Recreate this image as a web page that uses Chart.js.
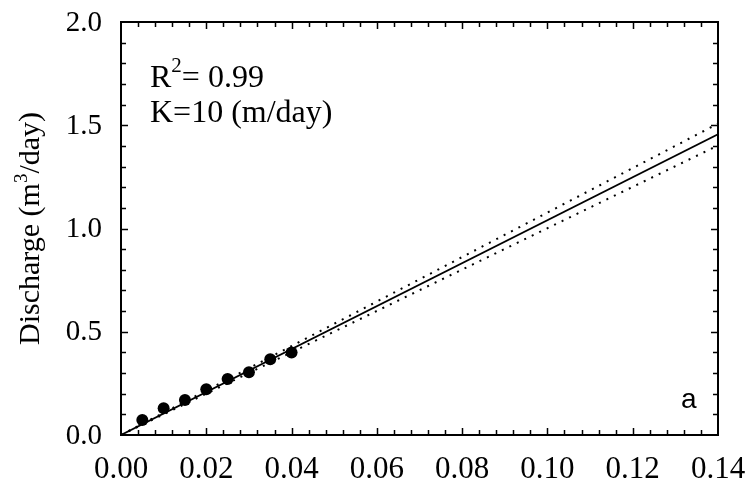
<!DOCTYPE html>
<html>
<head>
<meta charset="utf-8">
<title>Discharge vs gradient</title>
<script src="https://cdn.jsdelivr.net/npm/chart.js@4.4.1/dist/chart.umd.min.js"></script>
<style>
  html, body { margin: 0; padding: 0; background: #fff; }
  #wrap { width: 747px; height: 484px; }
</style>
</head>
<body>
<div id="wrap"><canvas id="dischargeChart" width="747" height="484"></canvas></div>
<script>
// measured points
const gradientValues = [0.005, 0.010, 0.015, 0.020, 0.025, 0.030, 0.035, 0.040];
const dischargeValues = [0.073, 0.129, 0.169, 0.221, 0.271, 0.304, 0.367, 0.400];

// regression line and its confidence bands (ends)
const lineX = [0, 0.14];
const fitY = [0, 1.456];
const upperY = [0, 1.508];
const lowerY = [0, 1.402];

// axis ticks
const xTickLabels = ['0.00', '0.02', '0.04', '0.06', '0.08', '0.10', '0.12', '0.14'];
const yTickLabels = ['0.0', '0.5', '1.0', '1.5', '2.0'];
const xMinorStep = 0.004;
const yMinorStep = 0.1;

const serif = '"Liberation Serif", "Times New Roman", serif';

function pairs(xs, ys) {
    return xs.map((x, i) => ({ x: x, y: ys[i] }));
}

// Plugin: frame, inward ticks, labels and text notes
const framePlugin = {
    id: 'frame',
    afterDraw(chart) {
        const ctx = chart.ctx;
        const xs = chart.scales.x;
        const ys = chart.scales.y;
        const a = chart.chartArea;
        ctx.save();
        ctx.strokeStyle = '#000';
        ctx.fillStyle = '#000';
        ctx.lineWidth = 2;
        ctx.strokeRect(a.left, a.top, a.right - a.left, a.bottom - a.top);

        // x ticks (bottom and top)
        ctx.lineWidth = 1.5;
        const nx = Math.round(xs.max / xMinorStep);
        for (let i = 1; i < nx; i++) {
            const v = i * xMinorStep;
            const px = Math.round(xs.getPixelForValue(v)) + 0.5;
            const major = Math.abs(v / 0.02 - Math.round(v / 0.02)) < 1e-6;
            const len = major ? 7 : 5;
            ctx.beginPath();
            ctx.moveTo(px, a.bottom); ctx.lineTo(px, a.bottom - len);
            ctx.moveTo(px, a.top); ctx.lineTo(px, a.top + len);
            ctx.stroke();
        }
        // y ticks (left and right)
        const ny = Math.round(ys.max / yMinorStep);
        for (let i = 1; i < ny; i++) {
            const v = i * yMinorStep;
            const py = Math.round(ys.getPixelForValue(v)) + 0.5;
            const major = Math.abs(v / 0.5 - Math.round(v / 0.5)) < 1e-6;
            const len = major ? 7 : 5;
            ctx.beginPath();
            ctx.moveTo(a.left, py); ctx.lineTo(a.left + len, py);
            ctx.moveTo(a.right, py); ctx.lineTo(a.right - len, py);
            ctx.stroke();
        }

        // tick labels
        ctx.font = '31px ' + serif;
        ctx.textAlign = 'center';
        ctx.textBaseline = 'alphabetic';
        xTickLabels.forEach(t => {
            ctx.fillText(t, xs.getPixelForValue(parseFloat(t)), a.bottom + 43);
        });
        ctx.font = '29px ' + serif;
        ctx.textAlign = 'right';
        ctx.textBaseline = 'middle';
        yTickLabels.forEach(t => {
            ctx.fillText(t, a.left - 19, ys.getPixelForValue(parseFloat(t)) + 1);
        });

        // y axis title with superscript
        ctx.save();
        ctx.translate(39, (a.top + a.bottom) / 2);
        ctx.rotate(-Math.PI / 2);
        ctx.textBaseline = 'alphabetic';
        ctx.textAlign = 'left';
        const p1 = 'Discharge (m', sup = '3', p2 = '/day)';
        ctx.font = '30px ' + serif;
        const w1 = ctx.measureText(p1).width;
        const w3 = ctx.measureText(p2).width;
        ctx.font = '19px ' + serif;
        const w2 = ctx.measureText(sup).width;
        let x0 = -(w1 + w2 + w3) / 2;
        ctx.font = '30px ' + serif;
        ctx.fillText(p1, x0, 0);
        ctx.font = '19px ' + serif;
        ctx.fillText(sup, x0 + w1, -12);
        ctx.font = '30px ' + serif;
        ctx.fillText(p2, x0 + w1 + w2, 0);
        ctx.restore();

        // notes
        ctx.textAlign = 'left';
        ctx.textBaseline = 'alphabetic';
        ctx.font = '32px ' + serif;
        const rw = ctx.measureText('R').width;
        ctx.fillText('R', 150, 87);
        ctx.font = '21px ' + serif;
        const sw = ctx.measureText('2').width;
        ctx.fillText('2', 150 + rw, 72);
        ctx.font = '32px ' + serif;
        ctx.fillText('= 0.99', 150 + rw + sw, 87);
        ctx.fillText('K=10 (m/day)', 150, 122);

        ctx.font = '28px "Liberation Sans", Arial, sans-serif';
        ctx.fillText('a', 681, 408);
        ctx.restore();
    }
};

new Chart(document.getElementById('dischargeChart'), {
    type: 'scatter',
    data: {
        datasets: [
            {
                label: 'Upper band',
                data: pairs(lineX, upperY),
                showLine: true,
                borderColor: '#000',
                borderWidth: 2,
                borderDash: [2, 6.3],
                pointRadius: 0
            },
            {
                label: 'Lower band',
                data: pairs(lineX, lowerY),
                showLine: true,
                borderColor: '#000',
                borderWidth: 2,
                borderDash: [2, 6.3],
                pointRadius: 0
            },
            {
                label: 'Fit',
                data: pairs(lineX, fitY),
                showLine: true,
                borderColor: '#000',
                borderWidth: 1.8,
                pointRadius: 0
            },
            {
                label: 'Measured',
                data: pairs(gradientValues, dischargeValues),
                pointRadius: 6,
                pointBackgroundColor: '#000',
                pointBorderColor: '#000',
                pointBorderWidth: 0
            }
        ]
    },
    options: {
        responsive: false,
        animation: false,
        layout: { padding: { left: 121, top: 22, right: 29, bottom: 49 } },
        plugins: { legend: { display: false }, tooltip: { enabled: false } },
        scales: {
            x: { type: 'linear', min: 0, max: 0.14, display: false },
            y: { type: 'linear', min: 0, max: 2.0, display: false }
        }
    },
    plugins: [framePlugin]
});
</script>
</body>
</html>
